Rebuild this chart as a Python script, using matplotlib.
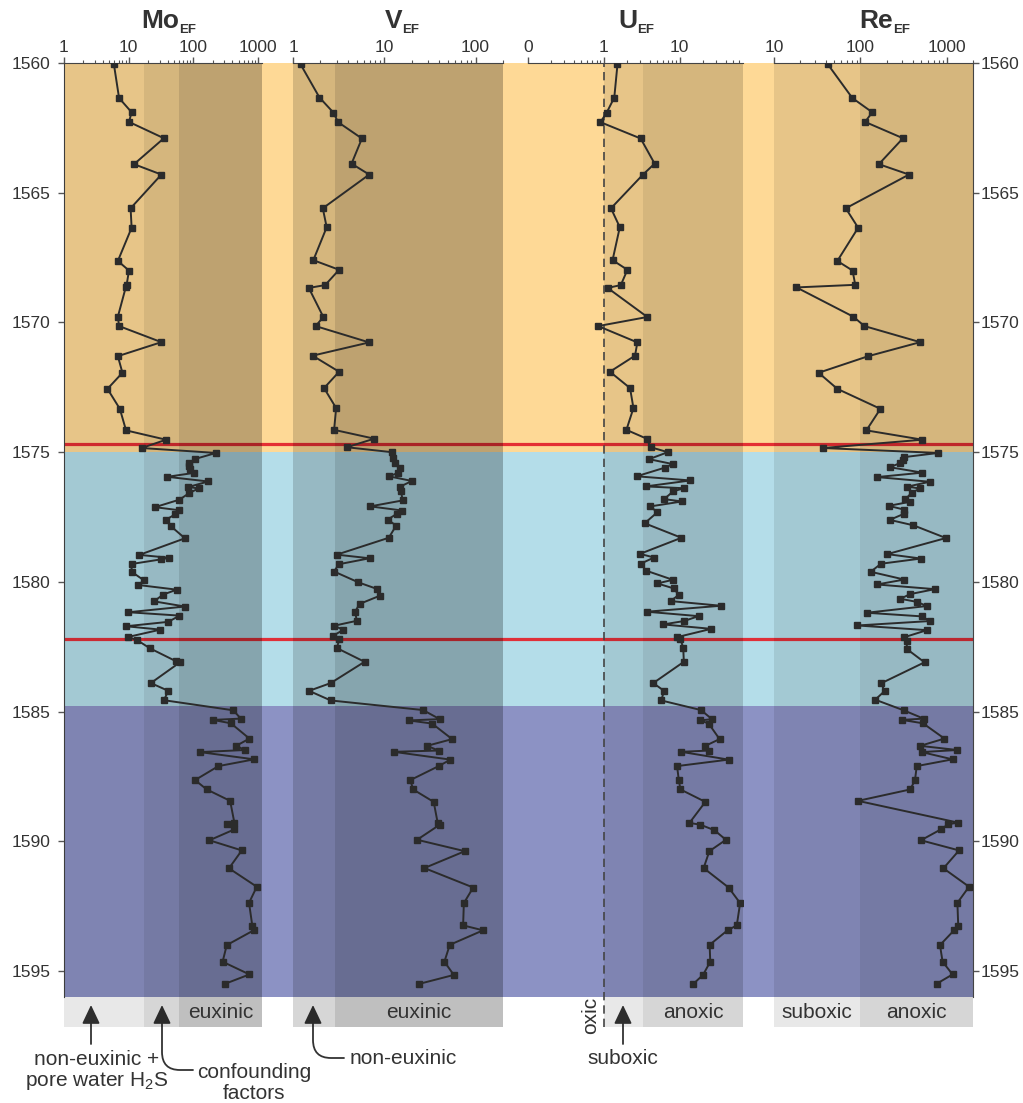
import numpy as np
import matplotlib
matplotlib.use('Agg')
import matplotlib.pyplot as plt
import matplotlib.transforms as mtransforms
from matplotlib.patches import Rectangle
from matplotlib.ticker import LogLocator, NullFormatter

plt.rcParams['font.family'] = ['Liberation Sans', 'DejaVu Sans']
plt.rcParams['mathtext.fontset'] = 'custom'
plt.rcParams['mathtext.rm'] = 'Liberation Sans'
plt.rcParams['mathtext.it'] = 'Liberation Sans:italic'
plt.rcParams['mathtext.bf'] = 'Liberation Sans:bold'

# depth zones (m) and marker horizons
zone_top = [1560, 1575, 1584.8]
zone_bot = [1575, 1584.8, 1596]
zone_colors = ['#fed996', '#b4dde9', '#8c92c4']
red_lines = [1574.7, 1582.2]
depth_ticks = [1560, 1565, 1570, 1575, 1580, 1585, 1590, 1595]

# Mo enrichment factor
mo_depth = [1560.04, 1561.35, 1561.90, 1562.27, 1562.90, 1563.90, 1564.30, 1565.60, 1566.35, 1567.63,
            1568.00, 1568.55, 1568.65, 1569.78, 1570.14, 1570.76, 1571.30, 1571.94, 1572.56, 1573.33,
            1574.16, 1574.52, 1574.84, 1575.03,
            1575.26, 1575.42, 1575.55, 1575.65, 1575.80, 1575.95, 1576.13, 1576.34, 1576.40, 1576.57,
            1576.83, 1577.12, 1577.24, 1577.40, 1577.60, 1577.85, 1578.32, 1578.96, 1579.07, 1579.13,
            1579.31, 1579.61, 1579.94, 1580.12, 1580.30, 1580.49, 1580.75, 1580.95, 1581.17, 1581.30,
            1581.54, 1581.71, 1581.84, 1582.12, 1582.25, 1582.56, 1583.06, 1583.10, 1583.90, 1584.20,
            1584.56,
            1584.95, 1585.27, 1585.32, 1585.45, 1586.04, 1586.32, 1586.48, 1586.56, 1586.84, 1587.10,
            1587.64, 1588.00, 1588.44, 1589.28, 1589.34, 1589.54, 1589.96, 1590.35, 1591.04, 1591.75,
            1592.37, 1593.26, 1593.42, 1594.00, 1594.64, 1595.13, 1595.49]
mo_ef = [5.9, 7.1, 11.1, 10.1, 35, 12.1, 32, 10.7, 11.1, 6.8,
         10.1, 9.3, 9.0, 6.8, 7.1, 32, 6.8, 8.0, 4.7, 7.3,
         9.1, 37.8, 15.9, 224,
         107, 87, 85, 90, 102, 39.5, 170, 84, 120, 87,
         61, 25.5, 61, 52, 38, 44.7, 74, 14.6, 42.6, 32,
         11.1, 11.1, 17.2, 14.1, 55.3, 34, 24.6, 74, 9.9, 61,
         41, 9.1, 31, 9.9, 13.6, 21.3, 54, 62, 22, 41,
         35,
         415, 540, 200, 380, 735, 457, 630, 126, 870, 244,
         106, 161, 370, 430, 328, 430, 177, 560, 355, 955,
         725, 815, 870, 328, 283, 735, 310]

# V enrichment factor
v_depth = [1560.05, 1561.33, 1561.91, 1562.28, 1562.91, 1563.88, 1564.30, 1565.60, 1566.33, 1567.60,
           1567.97, 1568.56, 1568.67, 1569.79, 1570.14, 1570.77, 1571.28, 1571.90, 1572.53, 1573.30,
           1574.14, 1574.48, 1574.81, 1575.00,
           1575.23, 1575.41, 1575.62, 1575.81, 1575.93, 1576.11, 1576.34, 1576.48, 1576.86, 1577.09,
           1577.25, 1577.37, 1577.60, 1577.83, 1578.30, 1578.95, 1579.09, 1579.32, 1579.60, 1580.02,
           1580.27, 1580.53, 1580.85, 1581.15, 1581.50, 1581.69, 1581.85, 1582.08, 1582.20, 1582.55,
           1583.08, 1583.90, 1584.20, 1584.57,
           1584.94, 1585.29, 1585.34, 1585.46, 1586.06, 1586.32, 1586.50, 1586.55, 1586.85, 1587.10,
           1587.64, 1588.00, 1588.48, 1589.29, 1589.36, 1589.94, 1590.38, 1591.03, 1591.78, 1592.38,
           1593.24, 1593.43, 1593.99, 1594.64, 1595.15, 1595.50]
v_ef = [1.21, 1.95, 2.77, 3.12, 5.69, 4.38, 6.84, 2.12, 2.34, 1.67,
        3.2, 2.25, 1.49, 2.15, 1.77, 6.84, 1.64, 3.2, 2.19, 2.97,
        2.82, 7.77, 3.89, 12.1,
        12.6, 13.2, 15.0, 14.0, 11.2, 20.1, 14.7, 15.2, 15.9, 7.0,
        15.8, 13.8, 10.9, 13.5, 11.2, 3.02, 6.9, 3.17, 2.82, 5.22,
        8.3, 9.0, 5.36, 4.79, 5.0, 2.82, 3.57, 2.73, 3.23, 3.02,
        6.08, 2.59, 1.5, 2.59,
        26.6, 40.5, 18.5, 33.4, 55.4, 29.4, 39.5, 12.7, 53.1, 39.5,
        19.3, 20.7, 34.8, 38.5, 40.5, 22.9, 76.4, 27.5, 94.3, 74.5,
        73.1, 121, 52.2, 45.6, 57.8, 23.8]

# U enrichment factor
u_depth = [1560.05, 1561.33, 1561.91, 1562.28, 1562.91, 1563.88, 1564.30, 1565.60, 1566.33, 1567.60,
           1567.97, 1568.56, 1568.67, 1569.79, 1570.14, 1570.77, 1571.28, 1571.90, 1572.53, 1573.30,
           1574.14, 1574.48, 1574.81, 1575.00,
           1575.27, 1575.46, 1575.60, 1575.93, 1576.09, 1576.32, 1576.39, 1576.51, 1576.81, 1576.90,
           1577.09, 1577.32, 1577.74, 1578.30, 1578.92, 1579.06, 1579.30, 1579.57, 1579.92, 1580.06,
           1580.25, 1580.50, 1580.74, 1580.92, 1581.15, 1581.32, 1581.51, 1581.64, 1581.81, 1582.13,
           1582.20, 1582.55, 1583.08, 1583.90, 1584.20, 1584.57,
           1584.94, 1585.29, 1585.34, 1585.46, 1586.06, 1586.32, 1586.50, 1586.55, 1586.85, 1587.10,
           1587.64, 1588.00, 1588.48, 1589.29, 1589.36, 1589.57, 1589.94, 1590.38, 1591.03, 1591.78,
           1592.38, 1593.24, 1593.43, 1593.99, 1594.64, 1595.15, 1595.50]
u_ef = [1.51, 1.37, 1.09, 0.90, 3.05, 4.66, 3.27, 1.24, 1.62, 1.3,
        2.04, 1.67, 1.12, 3.73, 0.84, 2.76, 2.57, 1.2, 2.21, 2.45,
        1.98, 3.66, 4.13, 6.96,
        3.93, 8.1, 6.3, 2.7, 13.8, 3.55, 11.3, 8.2, 6.2, 10.7,
        4.1, 5.05, 3.44, 10.5, 2.99, 4.57, 3.05, 3.62, 8.1, 5.05,
        8.3, 9.7, 7.55, 34.9, 3.66, 17.7, 11.3, 6.05, 26, 9.2,
        10.2, 11.1, 11.3, 4.47, 6.2, 5.7,
        19.0, 26.5, 18.7, 24.0, 33.4, 21.7, 24.5, 10.4, 43.9, 9.2,
        9.7, 10.2, 21.7, 13.4, 18.7, 28.5, 40.5, 24.5, 20.6, 43.9,
        62.3, 56.3, 42.5, 24.7, 25.2, 20.2, 15.0]

# Re enrichment factor
re_depth = [1560.04, 1561.35, 1561.90, 1562.27, 1562.90, 1563.90, 1564.30, 1565.60, 1566.35, 1567.63,
            1568.00, 1568.55, 1568.65, 1569.78, 1570.14, 1570.76, 1571.30, 1571.94, 1572.56, 1573.33,
            1574.16, 1574.52, 1574.84, 1575.03,
            1575.19, 1575.31, 1575.42, 1575.58, 1575.79, 1575.96, 1576.14, 1576.33, 1576.40, 1576.56,
            1576.82, 1576.91, 1577.07, 1577.21, 1577.38, 1577.61, 1577.82, 1578.31, 1578.93, 1579.10,
            1579.30, 1579.61, 1579.91, 1580.10, 1580.28, 1580.47, 1580.65, 1580.77, 1580.93, 1581.19,
            1581.33, 1581.51, 1581.68, 1581.86, 1582.14, 1582.26, 1582.58, 1583.10, 1583.91, 1584.21,
            1584.54,
            1584.95, 1585.27, 1585.32, 1585.45, 1586.04, 1586.32, 1586.48, 1586.56, 1586.84, 1587.10,
            1587.64, 1588.00, 1588.44, 1589.28, 1589.34, 1589.54, 1589.96, 1590.35, 1591.04, 1591.75,
            1592.37, 1593.26, 1593.42, 1594.00, 1594.64, 1595.13, 1595.49]
re_ef = [41.7, 80.5, 137, 113, 310, 163, 364, 67.6, 94, 54,
         81, 87, 18.2, 82.8, 111, 490, 123, 32.8, 54, 170,
         117, 521, 36.8, 795,
         321, 310, 289, 218, 521, 155, 633, 347, 490, 391,
         330, 377, 212, 316, 316, 218, 410, 972, 204, 500,
         173, 131, 321, 155, 725, 377, 289, 447, 587, 118,
         516, 633, 91.9, 587, 316, 347, 341, 550, 173, 190,
         148,
         316, 537, 302, 528, 935, 490, 1320, 510, 1160, 447,
         427, 376, 93.5, 1350, 1035, 850, 500, 1380, 910, 1800,
         1320, 1350, 1215, 830, 890, 1160, 760]

W, H = 1023, 1103
TOP, BOT = 63, 997
BOX = 30 / (BOT - TOP)  # height of the label boxes below the panels, in axes units
txt = '#333333'
note_size = 15


def rect(x0, x1):
    return [x0 / W, 1 - BOT / H, (x1 - x0) / W, (BOT - TOP) / H]


fig = plt.figure(figsize=(W / 100, H / 100), dpi=100)

# background: redox zones and horizons
bg = fig.add_axes(rect(64, 973))
bg.set_zorder(0)
bg.set_xlim(0, 1)
bg.set_ylim(1596, 1560)
for t, b, c in zip(zone_top, zone_bot, zone_colors):
    bg.axhspan(t, b, color=c, lw=0)
for d in red_lines:
    bg.axhline(d, color='#e3262e', lw=2.3, alpha=0.95)
bg.set_xticks([])
bg.set_yticks(depth_ticks)
bg.tick_params(axis='y', direction='out', length=4.5, width=1, color='#555555',
               labelsize=12.5, labelcolor=txt, pad=5)
for s in ['top', 'bottom', 'right']:
    bg.spines[s].set_visible(False)
bg.spines['left'].set_color('#444444')

rt = bg.twinx()
rt.set_ylim(1596, 1560)
rt.set_yticks(depth_ticks)
rt.tick_params(axis='y', direction='out', length=4.5, width=1, color='#555555',
               labelsize=12.5, labelcolor=txt, pad=1)
for s in ['top', 'bottom', 'left']:
    rt.spines[s].set_visible(False)
rt.spines['right'].set_color('#444444')

panels = [
    dict(name='Mo', x0=64, x1=262, lim=(1, 1150), ticks=[1, 10, 100, 1000],
         shade=[(1, 17, 0.09), (17, 60, 0.16), (60, 1150, 0.25)],
         boxtext={2: 'euxinic'}, depth=mo_depth, vals=mo_ef, tx=179),
    dict(name='V', x0=293, x1=503, lim=(1, 200), ticks=[1, 10, 100],
         shade=[(1, 2.9, 0.16), (2.9, 200, 0.25)],
         boxtext={1: 'euxinic'}, depth=v_depth, vals=v_ef, tx=402),
    dict(name='U', x0=528, x1=743, lim=(0.1, 68), ticks=[0.1, 1, 10],
         shade=[(1, 3.3, 0.09), (3.3, 68, 0.16)],
         boxtext={1: 'anoxic'}, depth=u_depth, vals=u_ef, tx=637),
    dict(name='Re', x0=774, x1=973, lim=(10, 2000), ticks=[10, 100, 1000],
         shade=[(10, 100, 0.09), (100, 2000, 0.16)],
         boxtext={0: 'suboxic', 1: 'anoxic'}, depth=re_depth, vals=re_ef, tx=893),
]
tick_labels = {'Mo': ['1', '10', '100', '1000'], 'V': ['1', '10', '100'],
               'U': ['0', '1', '10'], 'Re': ['10', '100', '1000']}

axes = {}
for p in panels:
    ax = fig.add_axes(rect(p['x0'], p['x1']))
    ax.set_zorder(1)
    ax.patch.set_alpha(0)
    ax.set_xscale('log')
    ax.set_xlim(p['lim'])
    ax.set_ylim(1596, 1560)
    tr = mtransforms.blended_transform_factory(ax.transData, ax.transAxes)
    for i, (a, b, al) in enumerate(p['shade']):
        ax.axvspan(a, b, color='k', alpha=al, lw=0, zorder=0)
        ax.add_patch(Rectangle((a, -BOX), b - a, BOX, transform=tr, facecolor='k',
                               alpha=al, lw=0, clip_on=False))
        if i in p['boxtext']:
            ax.text(np.sqrt(a * b), -BOX / 2 - 0.001, p['boxtext'][i], transform=tr, ha='center',
                    va='center', fontsize=note_size, color=txt)
    ax.plot(p['vals'], p['depth'], '-s', color='#2b2b2b', lw=1.4, ms=5, zorder=3)
    ax.xaxis.tick_top()
    ax.set_xticks(p['ticks'], tick_labels[p['name']])
    ax.xaxis.set_minor_locator(LogLocator(base=10, subs=np.arange(2, 10), numticks=20))
    ax.xaxis.set_minor_formatter(NullFormatter())
    ax.set_xlim(p['lim'])
    ax.tick_params(axis='x', which='major', direction='out', length=4, width=1,
                   color='#555555', labelsize=12.5, labelcolor=txt, pad=2)
    ax.tick_params(axis='x', which='minor', direction='out', length=2.2, width=0.8,
                   color='#555555')
    ax.set_yticks([])
    for s in ['left', 'right', 'bottom']:
        ax.spines[s].set_visible(False)
    ax.spines['top'].set_color('#444444')
    # panel titles
    fig.text(p['tx'] / W, 1 - 28 / H, p['name'], fontsize=19, fontweight='bold',
             ha='right', va='baseline', color=txt)
    fig.text(p['tx'] / W, 1 - 33 / H, 'EF', fontsize=9.5, fontweight='bold',
             ha='left', va='baseline', color=txt)
    axes[p['name']] = ax

# oxic / suboxic threshold in the U panel
axes['U'].axvline(1, ymin=-BOX, ymax=1, color='#444444', lw=1.2, ls=(0, (5, 3)),
                  clip_on=False, zorder=2)


# notes and arrows under the panels (positions in pixels from the top)
def fp(x, y):
    return (x, H - y)


head = '-|>,head_length=0.95,head_width=0.45'
straight = dict(arrowstyle=head, color=txt, lw=1.3, shrinkA=0, shrinkB=0, mutation_scale=12)


def arrow(tip, tail, conn=None):
    props = dict(straight)
    if conn:
        props['connectionstyle'] = conn
    bg.annotate('', xy=fp(*tip), xycoords='figure pixels', xytext=fp(*tail),
                textcoords='figure pixels', arrowprops=props, annotation_clip=False)


arrow((91, 1005), (91, 1044))
arrow((162, 1005), (193, 1070), 'angle,angleA=0,angleB=90,rad=18')
arrow((313, 1005), (344, 1058), 'angle,angleA=0,angleB=90,rad=18')
arrow((623, 1005), (623, 1044))

fig.text(97 / W, 1 - 1071 / H, 'non-euxinic +\npore water H$_2$S', ha='center', va='center',
         fontsize=note_size, color=txt, linespacing=1.1)
fig.text(254 / W, 1 - 1083 / H, 'confounding\nfactors', ha='center', va='center',
         fontsize=note_size, color=txt, linespacing=1.1)
fig.text(350 / W, 1 - 1059 / H, 'non-euxinic', ha='left', va='center',
         fontsize=note_size, color=txt)
fig.text(623 / W, 1 - 1059 / H, 'suboxic', ha='center', va='center',
         fontsize=note_size, color=txt)
fig.text(591 / W, 1 - 1015 / H, 'oxic', ha='center', va='center', rotation=90,
         fontsize=note_size, color=txt)

fig.savefig('out.png', dpi=100)
